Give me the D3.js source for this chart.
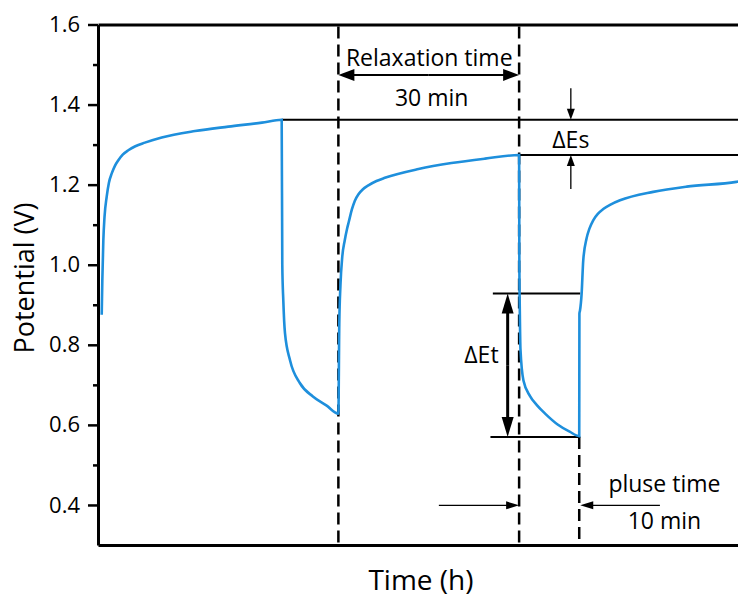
<!DOCTYPE html>
<html>
<head>
<meta charset="utf-8">
<script src="https://cdn.jsdelivr.net/npm/d3@7"></script>
<style>
  body { margin: 0; background: #fff; }
  svg text { font-family: "Open Sans", "Noto Sans", sans-serif; fill: #000; }
</style>
</head>
<body>
<svg id="chart" width="738" height="598"></svg>
<script>
// time in minutes (x axis has no tick labels), potential in volts
var timeMin = [0, 0.1, 0.27, 0.47, 0.83, 1.2, 1.67, 2.2, 2.77, 3.5, 4.43, 5.6, 7.2, 10, 15.55, 21.1, 26.7, 30.0,
  30.1, 30.27, 30.55, 31.4, 33.05, 35.2, 37.5, 39.45,
  39.6, 39.8, 40.1, 40.5, 40.9, 41.2, 41.7, 42.2, 42.8, 43.5, 44.45, 45.8, 47.2, 52.8, 58.3, 63.9, 69.58,
  69.62, 69.7, 69.8, 70.3, 71.4, 72.5, 74.0, 76.0, 78.0, 79.6,
  79.63, 79.72, 80.0, 80.27, 80.83, 81.3, 81.93, 82.7, 83.6, 84.9, 86.4, 91.93, 97.5, 105.8, 106.2];
var potential = [0.875, 0.96, 1.061, 1.12, 1.170, 1.205, 1.228, 1.247, 1.261, 1.275, 1.286, 1.296, 1.305, 1.318, 1.334, 1.345, 1.355, 1.362,
  1.0, 0.911, 0.829, 0.761, 0.704, 0.671, 0.648, 0.628,
  0.85, 0.95, 1.02, 1.06, 1.09, 1.108, 1.138, 1.16, 1.176, 1.188, 1.198, 1.209, 1.217, 1.239, 1.254, 1.265, 1.274,
  1.0, 0.88, 0.79, 0.711, 0.672, 0.650, 0.627, 0.601, 0.583, 0.572,
  0.878, 0.885, 0.928, 1.011, 1.066, 1.09, 1.111, 1.127, 1.139, 1.151, 1.161, 1.182, 1.195, 1.207, 1.208];
var yTicks = [0.4, 0.6, 0.8, 1.0, 1.2, 1.4, 1.6];
var yMinorTicks = [0.5, 0.7, 0.9, 1.1, 1.3, 1.5];

// annotation anchors (data units)
var pulse1End = 39.45, pulse2Start = 69.58, pulse2End = 79.6;
var levelRelax1 = 1.362, levelRelax2 = 1.274;
var dEtTop = 0.928, dEtBottom = 0.570;

var svg = d3.select("#chart"),
  margin = { top: 24.5, right: -2, bottom: 53, left: 98 },
  width = +svg.attr("width") - margin.left - margin.right,
  height = +svg.attr("height") - margin.top - margin.bottom;

var x = d3.scaleLinear().domain([-0.62, 106.4]).range([0, width]);
var y = d3.scaleLinear().domain([0.3, 1.6]).range([height, 0]);

var g = svg.append("g")
  .attr("transform", "translate(" + margin.left + "," + margin.top + ")");

// helper: straight arrow with filled head at (x2,y2)
function arrow(x1, y1, x2, y2, w, len, half) {
  var dx = x2 - x1, dy = y2 - y1, d = Math.sqrt(dx * dx + dy * dy);
  var ux = dx / d, uy = dy / d;
  var bx = x2 - ux * len, by = y2 - uy * len;
  g.append("line")
    .attr("x1", x1).attr("y1", y1).attr("x2", bx + ux).attr("y2", by + uy)
    .attr("stroke", "#000").attr("stroke-width", w);
  g.append("path")
    .attr("d", "M" + x2 + "," + y2 +
      "L" + (bx - uy * half) + "," + (by + ux * half) +
      "L" + (bx + uy * half) + "," + (by - ux * half) + "Z")
    .attr("fill", "#000");
}
function doubleArrow(x1, y1, x2, y2, w, len, half) {
  var mx = (x1 + x2) / 2, my = (y1 + y2) / 2;
  arrow(mx, my, x1, y1, w, len, half);
  arrow(mx, my, x2, y2, w, len, half);
}

// -- dashed time markers
[pulse1End, pulse2Start].forEach(function(t) {
  g.append("line")
    .attr("x1", x(t)).attr("x2", x(t))
    .attr("y1", 2).attr("y2", height)
    .attr("stroke", "#000").attr("stroke-width", 2.5)
    .attr("stroke-dasharray", "12,6");
});
g.append("line")
  .attr("x1", x(pulse2End)).attr("x2", x(pulse2End))
  .attr("y1", y(dEtBottom)).attr("y2", height)
  .attr("stroke", "#000").attr("stroke-width", 2.5)
  .attr("stroke-dasharray", "12,6");

// -- horizontal reference lines
g.append("line")
  .attr("x1", x(30)).attr("x2", width)
  .attr("y1", y(levelRelax1)).attr("y2", y(levelRelax1))
  .attr("stroke", "#000").attr("stroke-width", 2);
g.append("line")
  .attr("x1", x(pulse2Start)).attr("x2", width)
  .attr("y1", y(levelRelax2)).attr("y2", y(levelRelax2))
  .attr("stroke", "#000").attr("stroke-width", 2);
g.append("line")
  .attr("x1", x(65.2)).attr("x2", x(pulse2End) + 1)
  .attr("y1", y(dEtTop)).attr("y2", y(dEtTop))
  .attr("stroke", "#000").attr("stroke-width", 2);
g.append("line")
  .attr("x1", x(64.8)).attr("x2", x(pulse2End) + 1)
  .attr("y1", y(dEtBottom)).attr("y2", y(dEtBottom))
  .attr("stroke", "#000").attr("stroke-width", 2);

// -- potential curve
var pts = timeMin.map(function(t, i) { return [t, potential[i]]; });
var line = d3.line()
  .x(function(d) { return x(d[0]); })
  .y(function(d) { return y(d[1]); })
  .curve(d3.curveMonotoneX);
g.append("path")
  .datum(pts)
  .attr("d", line)
  .attr("fill", "none")
  .attr("stroke", "#1e8fdc")
  .attr("stroke-width", 2.6);

// -- axes
g.append("g")
  .attr("class", "y_axis")
  .call(d3.axisLeft(y).tickValues(yTicks).tickFormat(d3.format(".1f"))
    .tickSize(10).tickPadding(8).tickSizeOuter(0))
  .call(function(a) {
    a.select(".domain").attr("stroke-width", 3);
    a.selectAll(".tick line").attr("stroke-width", 2.5);
    a.selectAll(".tick text").attr("font-size", 22).attr("font-family", null);
  });
g.append("g")
  .attr("class", "y_minor")
  .call(d3.axisLeft(y).tickValues(yMinorTicks).tickFormat("").tickSize(5).tickSizeOuter(0))
  .call(function(a) {
    a.select(".domain").remove();
    a.selectAll(".tick line").attr("stroke-width", 2.5);
  });
g.append("g")
  .attr("class", "x_axis")
  .attr("transform", "translate(0," + height + ")")
  .call(d3.axisBottom(x).tickValues([]).tickSizeOuter(0))
  .select(".domain").attr("stroke-width", 3);
g.append("g")
  .attr("class", "x_top")
  .call(d3.axisTop(x).tickValues([]).tickSizeOuter(0))
  .select(".domain").attr("stroke-width", 3);

// -- annotations
doubleArrow(x(pulse1End), y(1.474), x(pulse2Start), y(1.474), 2, 16, 6);
g.append("text").attr("x", x(54.6)).attr("y", y(1.497)).attr("text-anchor", "middle")
  .attr("font-size", 23).text("Relaxation time");
g.append("text").attr("x", x(55)).attr("y", y(1.396)).attr("text-anchor", "middle")
  .attr("font-size", 23).text("30 min");

arrow(x(78.2), y(1.441), x(78.2), y(levelRelax1), 1.3, 11, 4);
arrow(x(78.2), y(1.189), x(78.2), y(levelRelax2), 1.3, 11, 4);
g.append("text").attr("x", x(78.2)).attr("y", y(1.292)).attr("text-anchor", "middle")
  .attr("font-size", 23).text("ΔEs");

doubleArrow(x(67.67), y(dEtTop), x(67.67), y(dEtBottom), 3, 20, 6);
g.append("text").attr("x", x(63.3)).attr("y", y(0.754)).attr("text-anchor", "middle")
  .attr("font-size", 23).text("ΔEt");

arrow(x(56.2), y(0.399), x(pulse2Start), y(0.399), 1.3, 13, 4);
arrow(x(93.05), y(0.399), x(pulse2End) + 1, y(0.399), 1.3, 13, 4);
g.append("text").attr("x", x(93.8)).attr("y", y(0.432)).attr("text-anchor", "middle")
  .attr("font-size", 23).text("pluse time");
g.append("text").attr("x", x(93.8)).attr("y", y(0.34)).attr("text-anchor", "middle")
  .attr("font-size", 23).text("10 min");

// -- axis titles
svg.append("text")
  .attr("x", 421).attr("y", 590)
  .attr("text-anchor", "middle")
  .attr("font-size", 28)
  .text("Time (h)");
svg.append("text")
  .attr("transform", "translate(34,278) rotate(-90)")
  .attr("text-anchor", "middle")
  .attr("font-size", 27)
  .text("Potential (V)");
</script>
</body>
</html>
